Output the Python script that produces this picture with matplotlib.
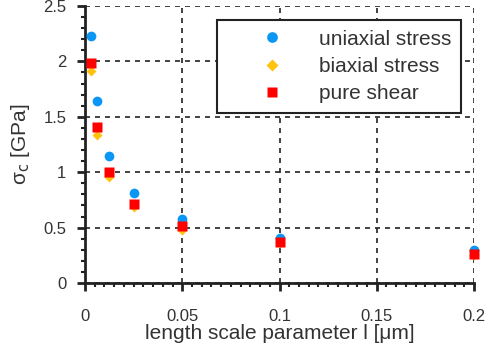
import numpy as np
import matplotlib.pyplot as plt
from matplotlib.ticker import MultipleLocator, FuncFormatter

plt.rcParams['font.family'] = ['Liberation Sans', 'DejaVu Sans']

# length scale parameter l [um]
l_vals = [0.003125, 0.00625, 0.0125, 0.025, 0.05, 0.1, 0.2]

# critical stress sigma_c [GPa]
uniaxial = [2.23, 1.64, 1.15, 0.81, 0.58, 0.41, 0.30]
biaxial = [1.91, 1.34, 0.96, 0.69, 0.48, 0.36, 0.25]
shear = [1.99, 1.41, 1.00, 0.71, 0.51, 0.37, 0.26]

fig = plt.figure(figsize=(4.9, 3.53), dpi=100)
ax = fig.add_axes([85 / 490, 70 / 353, 389 / 490, 277 / 353])

ax.plot(l_vals, uniaxial, 'o', color='#0a96f5', ms=7, mec='none',
        label='uniaxial stress', zorder=3, clip_on=False)
ax.plot(l_vals, biaxial, 'D', color='#ffc20e', ms=5.5, mec='none',
        label='biaxial stress', zorder=4, clip_on=False)
ax.plot(l_vals, shear, 's', color='#ff0000', ms=6.5, mec='none',
        label='pure shear', zorder=5, clip_on=False)

ax.set_xlim(0, 0.2)
ax.set_ylim(0, 2.5)
ax.xaxis.set_major_locator(MultipleLocator(0.05))
ax.xaxis.set_minor_locator(MultipleLocator(0.005))
ax.yaxis.set_major_locator(MultipleLocator(0.5))
ax.yaxis.set_minor_locator(MultipleLocator(0.1))
fmt = FuncFormatter(lambda v, pos: '%g' % round(v, 4))
ax.xaxis.set_major_formatter(fmt)
ax.yaxis.set_major_formatter(fmt)

for s in ['top', 'right']:
    ax.spines[s].set_visible(False)
for s in ['left', 'bottom']:
    ax.spines[s].set_linewidth(2)
    ax.spines[s].set_color('#222222')

ax.tick_params(which='major', direction='out', length=5.5, width=2,
               color='#222222', labelsize=12, labelcolor='#333333')
ax.tick_params(which='minor', direction='out', length=3, width=1.5,
               color='#222222')
ax.tick_params(axis='x', which='major', pad=13)
ax.tick_params(axis='y', which='major', pad=8)
ax.grid(True, which='major', ls=(0, (3, 3)), color='#222222', lw=1.2)
ax.set_axisbelow(True)

ax.set_xlabel('length scale parameter l [\u03bcm]', fontsize=15,
              labelpad=0, color='#333333')
ax.set_ylabel('\u03c3$_\\mathrm{c}$ [GPa]', fontsize=15, labelpad=8,
              color='#333333')

leg = ax.legend(loc='upper right', bbox_to_anchor=(0.9666, 0.949), fontsize=15,
                handletextpad=0.05, handlelength=4.4, borderpad=0.45,
                labelspacing=0.4, borderaxespad=0, markerscale=1.1,
                fancybox=False, framealpha=1, edgecolor='#222222')
leg.get_frame().set_linewidth(1.5)
for t in leg.get_texts():
    t.set_color('#333333')

fig.savefig('out.png', dpi=100)
